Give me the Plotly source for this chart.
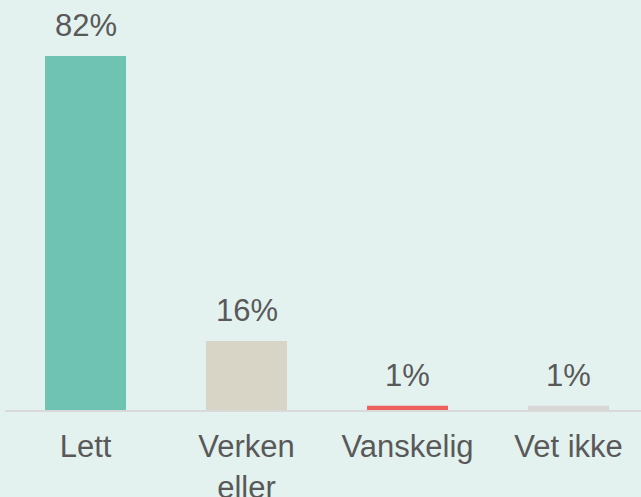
import plotly.graph_objects as go

categories = ["Lett", "Verken<br>eller", "Vanskelig", "Vet ikke"]
values = [82, 16, 1, 1]
labels = ["82%", "16%", "1%", "1%"]
colors = ["#6fc3b2", "#d8d5c6", "#ee605c", "#d9d6d6"]

BG = "#e3f2ef"
TXT = "#595959"
FONT = "Liberation Sans, Arial, sans-serif"

fig = go.Figure()
fig.add_trace(go.Bar(
    x=list(range(len(categories))),
    y=values,
    marker=dict(color=colors, line=dict(width=0)),
    width=0.503,
    hoverinfo="skip",
))

for i, (v, t) in enumerate(zip(values, labels)):
    fig.add_annotation(x=i, y=v, text=t, showarrow=False, yanchor="bottom",
                       yshift=11, font=dict(size=31, color=TXT, family=FONT))

fig.update_layout(
    width=641, height=497,
    paper_bgcolor=BG, plot_bgcolor=BG,
    margin=dict(l=5, r=0, t=0, b=87, autoexpand=False),
    showlegend=False,
    font=dict(family=FONT, color=TXT, size=31),
    xaxis=dict(
        range=[-0.5, 3.45],
        tickmode="array",
        tickvals=list(range(len(categories))),
        ticktext=categories,
        showgrid=False, zeroline=False,
        showline=True, linecolor="#d9d9d9", linewidth=2,
        ticks="", ticklabelstandoff=8,
        tickfont=dict(size=31, color=TXT, family=FONT),
        automargin=False,
        fixedrange=True,
    ),
    yaxis=dict(range=[0, 95], visible=False, showgrid=False, zeroline=False,
               automargin=False, fixedrange=True),
)

fig.write_html(
    "out.html",
    config={"displayModeBar": False, "staticPlot": True},
    post_script="document.body.style.margin='0';document.body.style.background='#e3f2ef';",
)
